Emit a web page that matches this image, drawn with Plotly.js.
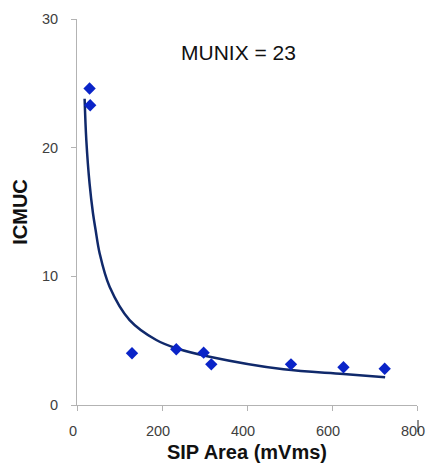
<!DOCTYPE html>
<html>
<head>
<meta charset="utf-8">
<script src="https://cdn.plot.ly/plotly-3.0.1.min.js"></script>
<style>html,body{margin:0;padding:0;background:#fff;}#chart{width:435px;height:475px;}</style>
</head>
<body>
<div id="chart"></div>
<script>
// Measured data points
const sipArea = [29.6, 31, 129.4, 233.6, 298, 316, 503.5, 627, 724];
const icmuc   = [24.6, 23.3, 4.02, 4.33, 4.07, 3.16, 3.16, 2.93, 2.82];
// Trendline
const trendX = [17.9, 21.9, 29.6, 37.6, 43.8, 53.2, 76.7, 123.8, 186.6, 233.6, 312, 486, 627, 725];
const trendY = [23.8, 20.6, 17.2, 14.9, 13.6, 11.8, 9.19, 6.60, 5.05, 4.41, 3.75, 2.77, 2.41, 2.15];
const xTicks = [0, 200, 400, 600, 800];
const yTicks = [0, 10, 20, 30];
const annotationText = 'MUNIX = 23';

const font = 'Liberation Sans, Arial, sans-serif';

const traces = [
  {
    x: trendX, y: trendY, type: 'scatter', mode: 'lines',
    line: {color: '#10296b', width: 2.5, shape: 'spline', smoothing: 1},
    hoverinfo: 'skip', showlegend: false
  },
  {
    x: sipArea, y: icmuc, type: 'scatter', mode: 'markers',
    marker: {symbol: 'diamond', size: 9.5, color: '#0a24c8'},
    showlegend: false
  }
];

const layout = {
  width: 435, height: 475,
  margin: {l: 77, r: 18, t: 19, b: 70},
  paper_bgcolor: '#fff', plot_bgcolor: '#fff',
  showlegend: false,
  xaxis: {
    range: [0, 800], tickvals: xTicks, ticktext: xTicks.map(String),
    showgrid: false, zeroline: false,
    showline: true, linecolor: '#b3b3b3', linewidth: 1,
    ticks: 'outside', ticklen: 5, tickcolor: '#b3b3b3',
    ticklabelstandoff: 8, ticklabelshift: -4,
    tickfont: {family: font, size: 14.5, color: '#404040'},
    title: {text: 'SIP Area (mVms)', font: {family: font, size: 20, color: '#111', weight: 'bold'}, standoff: 6}
  },
  yaxis: {
    range: [0, 30], tickvals: yTicks, ticktext: yTicks.map(String),
    showgrid: false, zeroline: false,
    showline: true, linecolor: '#b3b3b3', linewidth: 1,
    ticks: 'outside', ticklen: 5, tickcolor: '#b3b3b3',
    ticklabelstandoff: 10,
    tickfont: {family: font, size: 14.5, color: '#404040'},
    title: {text: 'ICMUC', font: {family: font, size: 20, color: '#111', weight: 'bold'}, standoff: 8}
  },
  annotations: [{
    text: annotationText, xref: 'paper', yref: 'paper',
    x: (238 - 77) / 340, y: (405 - 53) / 386,
    xanchor: 'center', yanchor: 'middle', showarrow: false,
    font: {family: font, size: 21, color: '#111'}
  }],
  shapes: [{
    type: 'line', xref: 'paper', yref: 'paper',
    x0: (418 - 77) / 340, x1: (418 - 77) / 340,
    y0: (405 - 420) / 386, y1: (405 - 432) / 386,
    line: {color: '#222', width: 1}
  }]
};

Plotly.newPlot('chart', traces, layout, {displayModeBar: false, staticPlot: true});
</script>
</body>
</html>
